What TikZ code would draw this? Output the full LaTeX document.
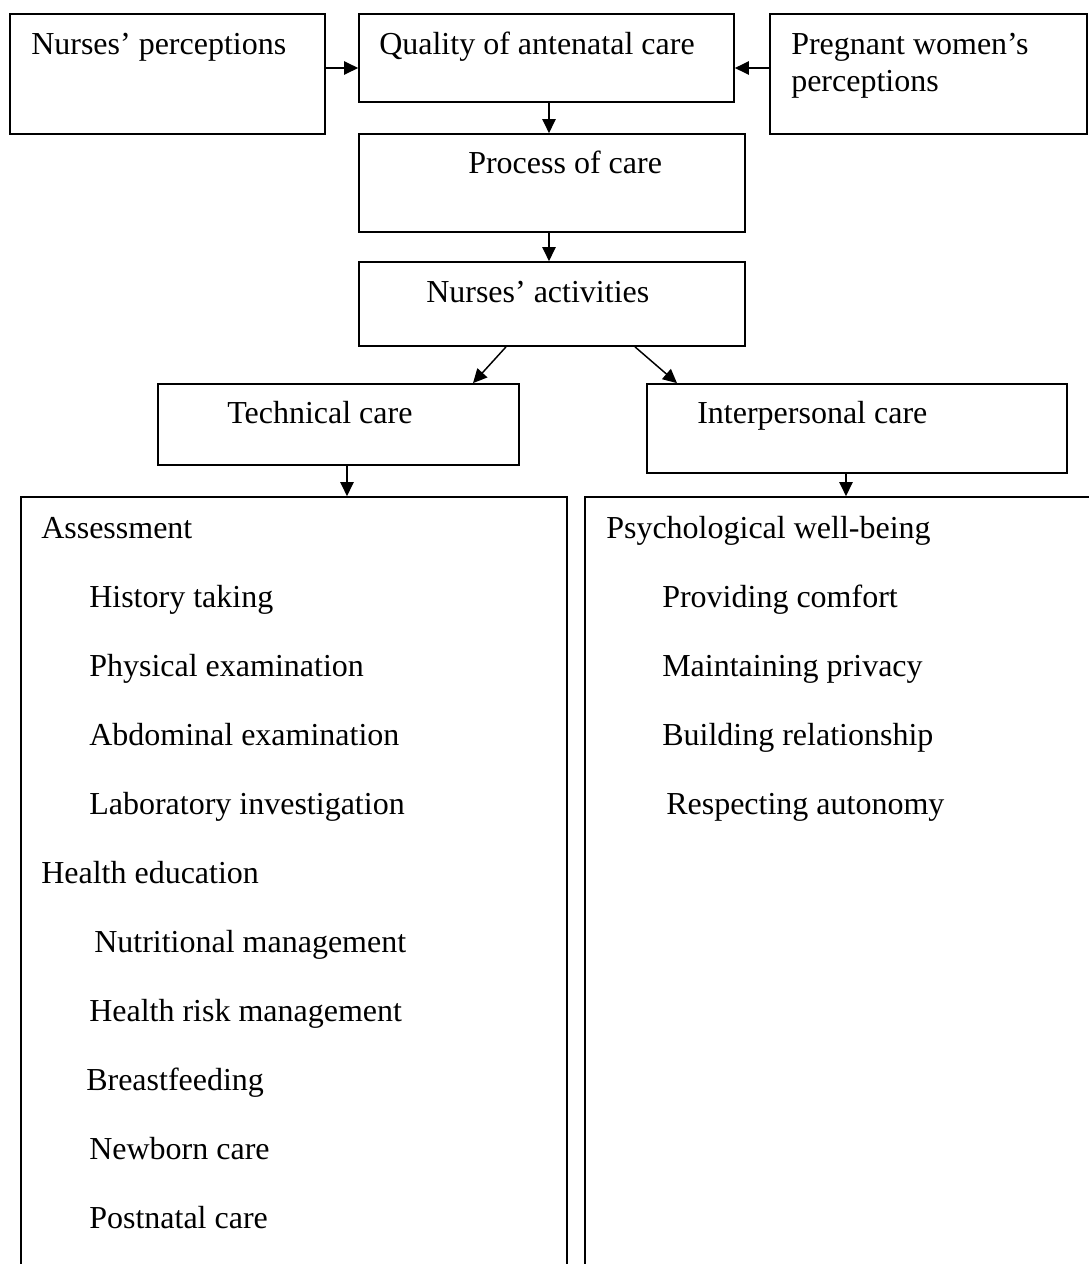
\documentclass[tikz,border=0pt]{standalone}
\usepackage{fontspec}
\setmainfont{Liberation Serif}
\usetikzlibrary{arrows.meta,fit}
\begin{document}
\begin{tikzpicture}[x=0.75pt,y=-0.75pt,
  box/.style={draw,line width=1.3pt,inner sep=0pt},
  arr/.style={line width=1.1pt,-{Triangle[length=10.5pt,width=10pt]}},
  lbl/.style={anchor=base west,inner sep=0pt,font=\fontsize{24}{28}\selectfont}]
\useasboundingbox (0,0) rectangle (1089,1264);
% boxes
\node[box,fit={(10,14) (325,134)}] (np) {};
\node[box,fit={(359,14) (734,102)}] (q) {};
\node[box,fit={(770,14) (1087,134)}] (pw) {};
\node[box,fit={(359,134) (745,232)}] (pc) {};
\node[box,fit={(359,262) (745,346)}] (na) {};
\node[box,fit={(158,384) (519,465)}] (tc) {};
\node[box,fit={(647,384) (1067,473)}] (ic) {};
\node[box,fit={(21,497) (567,1290)}] (lb) {};
\node[box,fit={(585,497) (1100,1290)}] (rb) {};
% helper coordinates
\coordinate (yA) at (0,68);
\coordinate (xA) at (549,0);
\coordinate (d1s) at (506,0);
\coordinate (d1e) at (473,0);
\coordinate (d2s) at (635,0);
\coordinate (d2e) at (677,0);
\coordinate (xT) at (347,0);
\coordinate (xI) at (846,0);
% arrows
\draw[arr] (np.east |- yA) -- (q.west |- yA);
\draw[arr] (pw.west |- yA) -- (q.east |- yA);
\draw[arr] (q.south -| xA) -- (pc.north -| xA);
\draw[arr] (pc.south -| xA) -- (na.north -| xA);
\draw[arr] (na.south -| d1s) -- (tc.north -| d1e);
\draw[arr] (na.south -| d2s) -- (ic.north -| d2e);
\draw[arr] (tc.south -| xT) -- (lb.north -| xT);
\draw[arr] (ic.south -| xI) -- (rb.north -| xI);
% labels
\node[lbl] (tnp) at (31,54) {Nurses’ perceptions};
\node[lbl] (tq) at (379,54) {Quality of antenatal care};
\node[lbl] (tpw1) at (791,54) {Pregnant women’s};
\node[lbl] (tpw2) at (791,91) {perceptions};
\node[lbl] (tpc) at (468,173) {Process of care};
\node[lbl] (tna) at (426,302) {Nurses’ activities};
\node[lbl] (ttc) at (227,423) {Technical care};
\node[lbl] (tic) at (697,423) {Interpersonal care};
% left list
\node[lbl] (l1) at (41,538) {Assessment};
\node[lbl] (l2) at (89,607) {History taking};
\node[lbl] (l3) at (89,676) {Physical examination};
\node[lbl] (l4) at (89,745) {Abdominal examination};
\node[lbl] (l5) at (89,814) {Laboratory investigation};
\node[lbl] (l6) at (41,883) {Health education};
\node[lbl] (l7) at (94,952) {Nutritional management};
\node[lbl] (l8) at (89,1021) {Health risk management};
\node[lbl] (l9) at (86,1090) {Breastfeeding};
\node[lbl] (l10) at (89,1159) {Newborn care};
\node[lbl] (l11) at (89,1228) {Postnatal care};
% right list
\node[lbl] (r1) at (606,538) {Psychological well-being};
\node[lbl] (r2) at (662,607) {Providing comfort};
\node[lbl] (r3) at (662,676) {Maintaining privacy};
\node[lbl] (r4) at (662,745) {Building relationship};
\node[lbl] (r5) at (666,814) {Respecting autonomy};
\end{tikzpicture}
\end{document}
